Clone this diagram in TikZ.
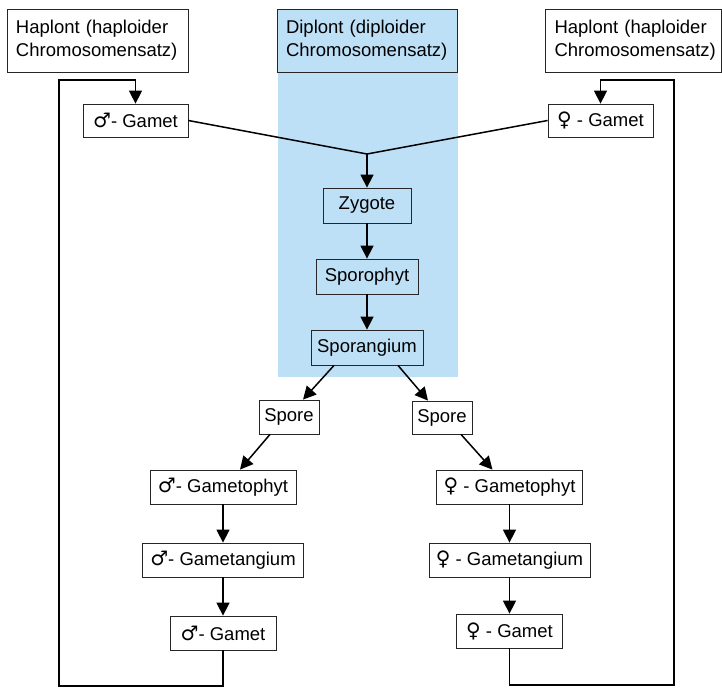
\documentclass[tikz,border=0pt]{standalone}
\usepackage{fontspec}
\setmainfont{Liberation Sans}
\newfontfamily\symfont{DejaVu Sans}
\usetikzlibrary{arrows.meta}
\definecolor{dipblue}{RGB}{190,224,247}
\newcommand{\male}{{\symfont\fontsize{20}{22}\selectfont ♂}}
\newcommand{\female}{{\symfont\fontsize{20}{22}\selectfont ♀}}
\begin{document}
\begin{tikzpicture}[x=1pt,y=-1pt,
  box/.style={draw=black!85,line width=0.8pt,inner sep=0pt,minimum height=34pt,font=\fontsize{18.5}{23}\selectfont},
  bigbox/.style={box,minimum height=63pt,align=left,text width=#1,inner xsep=9pt},
  conn/.style={line width=1.5pt},
  arr/.style={conn,-{Triangle[length=13pt,width=13pt]}}]
\useasboundingbox (0,0) rectangle (722,688);
\fill[dipblue] (278,9) rectangle (458,377);
\node[bigbox=163pt,minimum width=181pt] (hapL) at (97.5,40.5) {Haplont (haploider\\Chromosomensatz)};
\node[bigbox=162pt,minimum width=180pt,fill=dipblue] (dip) at (367,40.5) {Diplont (diploider\\Chromosomensatz)};
\node[bigbox=158pt,minimum width=175pt] (hapR) at (633.5,40.5) {Haplont (haploider\\Chromosomensatz)};
\node[box,minimum width=105pt,minimum height=33pt] (gamL) at (135.5,120.5) {\male- Gamet};
\node[box,minimum width=105pt,minimum height=33pt] (gamR) at (600.5,120.5) {\female\ - Gamet};
\coordinate (m) at (367,154);
\node[box,minimum width=88pt,minimum height=35pt] (zyg) at (367,205.5) {Zygote};
\node[box,minimum width=102pt,minimum height=35pt] (spph) at (367,276.5) {Sporophyt};
\node[box,minimum width=112pt,minimum height=35pt] (spg) at (367,347.5) {Sporangium};
\node[box,minimum width=60pt] (sporeL) at (289,417) {Spore};
\node[box,minimum width=60pt,minimum height=33pt] (sporeR) at (442,417.5) {Spore};
\node[box,minimum width=146pt] (gphL) at (223,487) {\male- Gametophyt};
\node[box,minimum width=146pt] (gphR) at (509.5,487) {\female\ - Gametophyt};
\node[box,minimum width=161pt] (gtgL) at (223,560) {\male- Gametangium};
\node[box,minimum width=161pt] (gtgR) at (509.5,560) {\female\ - Gametangium};
\node[box,minimum width=106pt] (gL) at (223,633) {\male- Gamet};
\node[box,minimum width=106pt] (gR) at (509.5,631) {\female\ - Gamet};
\coordinate (cl1) at (59,686);
\coordinate (cl2) at (59,80);
\coordinate (cr1) at (674,685);
\coordinate (cr2) at (674,80);
\draw[conn] (gamL.east) -- (m);
\draw[conn] (gamR.west) -- (m);
\draw[arr] (m) -- (zyg.north);
\draw[arr] (zyg) -- (spph);
\draw[arr] (spph) -- (spg);
\draw[arr] ([xshift=-33pt]spg.south) -- ([xshift=14pt]sporeL.north);
\draw[arr] ([xshift=31pt]spg.south) -- ([xshift=-14pt]sporeR.north);
\draw[arr] ([xshift=-19pt]sporeL.south) -- ([xshift=17pt]gphL.north);
\draw[arr] ([xshift=19pt]sporeR.south) -- ([xshift=-17pt]gphR.north);
\draw[arr] (gphL) -- (gtgL);
\draw[arr] (gtgL) -- (gL);
\draw[arr] (gphR) -- (gtgR);
\draw[arr] (gtgR) -- (gR);
\draw[arr] (gL.south) |- (cl1) -- (cl2) -| (gamL.north);
\draw[arr] (gR.south) |- (cr1) -- (cr2) -| (gamR.north);
\end{tikzpicture}
\end{document}
